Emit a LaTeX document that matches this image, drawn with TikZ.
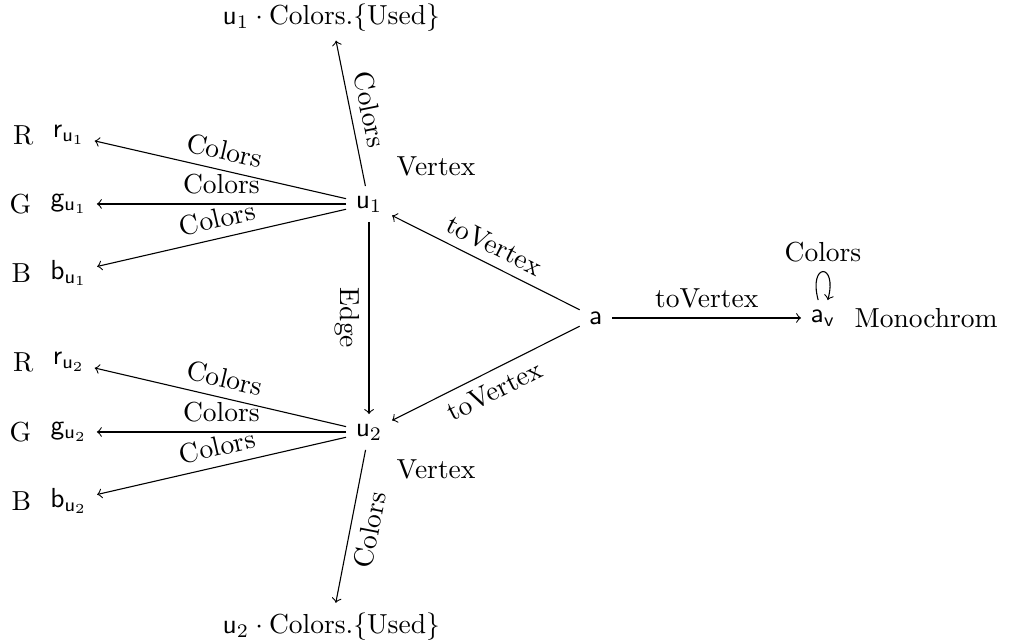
\documentclass[tikz,border=0pt]{standalone}
\usetikzlibrary{arrows, positioning}
\begin{document}
\begin{tikzpicture}
	\useasboundingbox (0,0) rectangle (12.886,8.199);
	% Vértices del grafo
	\node (u1) at (4.713,5.594) [label=above right:Vertex] {$\mathsf{u}_1$};
	\node (u2) at (4.713,2.682) [label=below right:Vertex] {$\mathsf{u}_2$};
	\node (a) at (7.612,4.138) {$\mathsf{a}$};
	\node (av) at (10.51,4.138) [label=right:Monochrom] {$\mathsf{a}_\mathsf{v}$};
	
	% Colores de u1 y u2
	\node (r1) at (0.88,6.475) [label=left:R] {$\mathsf{r}_{\mathsf{u}_1}$};
	\node (g1) at (0.88,5.594) [label=left:G] {$\mathsf{g}_{\mathsf{u}_1}$};
	\node (b1) at (0.88,4.713) [label=left:B] {$\mathsf{b}_{\mathsf{u}_1}$};
	\node (r2) at (0.88,3.576) [label=left:R] {$\mathsf{r}_{\mathsf{u}_2}$};
	\node (g2) at (0.88,2.682) [label=left:G] {$\mathsf{g}_{\mathsf{u}_2}$};
	\node (b2) at (0.88,1.801) [label=left:B] {$\mathsf{b}_{\mathsf{u}_2}$};
	
	% Colores usados
	\node (used1) at (4.23,7.98) {$\mathsf{u}_1 \cdot \mathrm{Colors}.\{\mathrm{Used}\}$};
	\node (used2) at (4.23,0.2) {$\mathsf{u}_2 \cdot \mathrm{Colors}.\{\mathrm{Used}\}$};
	
	% Aristas
	\draw[->] (u1) -- node[above,sloped] {Colors} (r1);
	\draw[->] (u1) -- node[above,sloped] {Colors} (g1);
	\draw[->] (u1) -- node[above,sloped] {Colors} (b1);
	\draw[->] (u2) -- node[above,sloped] {Colors} (r2);
	\draw[->] (u2) -- node[above,sloped] {Colors} (g2);
	\draw[->] (u2) -- node[above,sloped] {Colors} (b2);
	\draw[->] (u1) -- node[above,sloped] {Colors} (used1);
	\draw[->] (u2) -- node[below,sloped] {Colors} (used2);
	\draw[->] (u1) -- node[below,sloped] {Edge} (u2);
	\draw[->] (a) -- node[above,sloped] {toVertex} (u1);
	\draw[->] (a) -- node[below,sloped] {toVertex} (u2);
	\draw[->] (a) -- node[above] {toVertex} (av);
	\draw[->] (av) to[loop above] node[above] {Colors} (av);
\end{tikzpicture}
\end{document}
